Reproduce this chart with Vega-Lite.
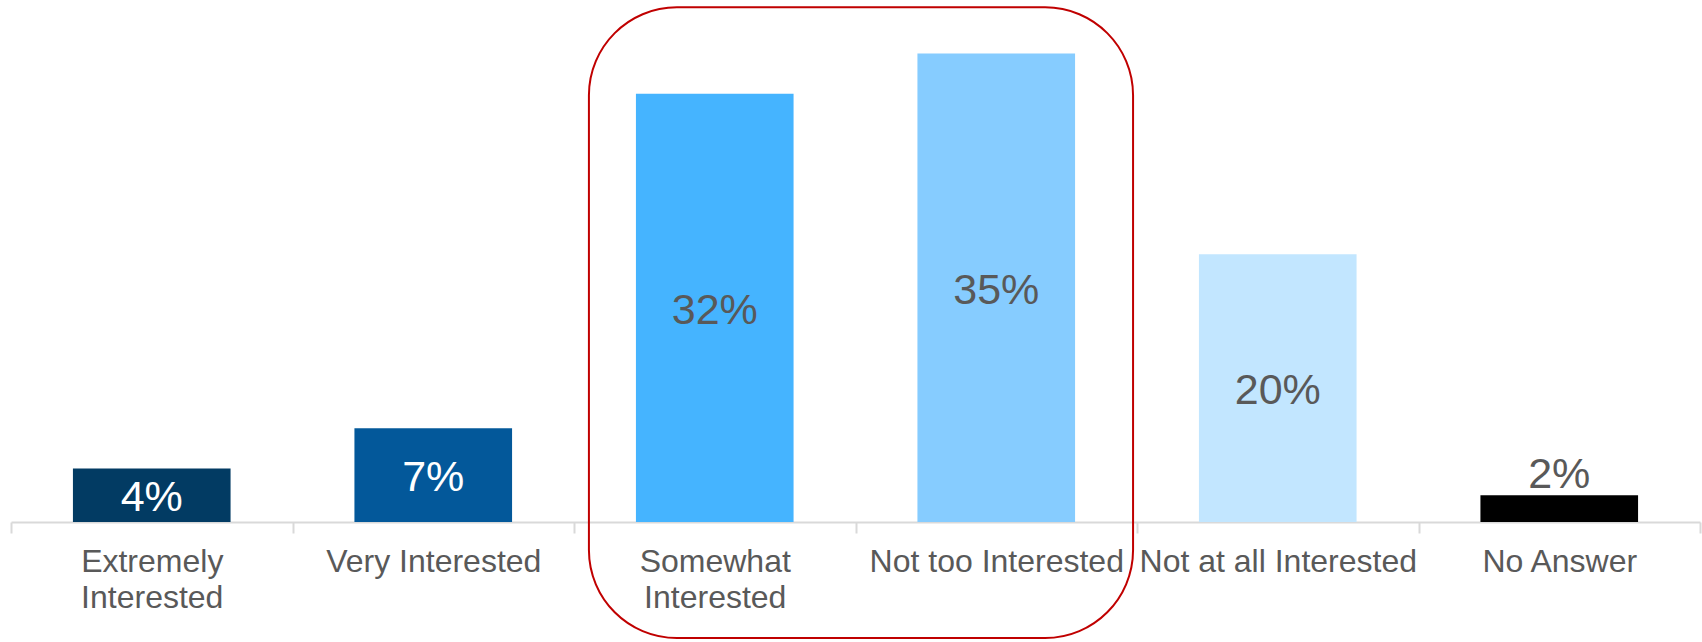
{
  "$schema": "https://vega.github.io/schema/vega-lite/v6.json",
  "width": 1689,
  "height": 522,
  "autosize": {"type": "none"},
  "padding": {"left": 11, "top": 0, "right": 2, "bottom": 120},
  "background": "white",
  "config": {
    "view": {"stroke": null},
    "font": "Liberation Sans"
  },
  "data": {
    "values": [
      {"response": "Extremely Interested", "pct": 0.04},
      {"response": "Very Interested", "pct": 0.07},
      {"response": "Somewhat Interested", "pct": 0.32},
      {"response": "Not too Interested", "pct": 0.35},
      {"response": "Not at all Interested", "pct": 0.20},
      {"response": "No Answer", "pct": 0.02}
    ]
  },
  "layer": [
    {
      "layer": [
        {
          "mark": {"type": "bar", "width": {"band": 0.56}},
          "encoding": {
            "x": {
              "field": "response",
              "type": "nominal",
              "sort": null,
              "scale": {"paddingInner": 0, "paddingOuter": 0},
              "axis": {
                "title": null,
                "tickBand": "extent",
                "domainColor": "#D9D9D9",
                "domainWidth": 2,
                "tickColor": "#D9D9D9",
                "tickWidth": 2,
                "tickSize": 11,
                "labelFont": "Liberation Sans",
                "labelFontSize": 32,
                "labelColor": "#595959",
                "labelPadding": 13,
                "labelAngle": 0,
                "labelLineHeight": 36,
                "labelLimit": 0,
                "labelOverlap": false,
                "labelBound": false,
                "labelExpr": "datum.value == 'Extremely Interested' || datum.value == 'Somewhat Interested' ? split(datum.value, ' ') : datum.value"
              }
            },
            "y": {
              "field": "pct",
              "type": "quantitative",
              "scale": {"domain": [0, 0.39], "nice": false},
              "axis": null
            },
            "color": {
              "field": "response",
              "type": "nominal",
              "scale": {
                "domain": ["Extremely Interested", "Very Interested", "Somewhat Interested", "Not too Interested", "Not at all Interested", "No Answer"],
                "range": ["#023B63", "#03589A", "#45B4FF", "#86CCFF", "#C2E6FF", "#000000"]
              },
              "legend": null
            }
          }
        },
        {
          "transform": [
            {"filter": "datum.response != 'No Answer'"},
            {"calculate": "datum.pct / 2", "as": "mid"}
          ],
          "mark": {"type": "text", "fontSize": 43, "baseline": "middle", "align": "center", "dy": 3, "font": "Liberation Sans"},
          "encoding": {
            "x": {"field": "response", "type": "nominal", "sort": null},
            "y": {"field": "mid", "type": "quantitative"},
            "text": {"field": "pct", "type": "quantitative", "format": ".0%"},
            "color": {"condition": {"test": "datum.pct < 0.1", "value": "#FFFFFF"}, "value": "#595959"}
          }
        },
        {
          "transform": [{"filter": "datum.response == 'No Answer'"}],
          "mark": {"type": "text", "fontSize": 43, "baseline": "alphabetic", "align": "center", "dy": -7, "color": "#595959", "font": "Liberation Sans"},
          "encoding": {
            "x": {"field": "response", "type": "nominal", "sort": null},
            "y": {"field": "pct", "type": "quantitative"},
            "text": {"field": "pct", "type": "quantitative", "format": ".0%"}
          }
        }
      ]
    },
    {
      "data": {"values": [{}]},
      "mark": {"type": "rect", "cornerRadius": 88, "fillOpacity": 0, "stroke": "#C00000", "strokeWidth": 2},
      "encoding": {
        "x": {"datum": 2.053, "type": "quantitative", "scale": {"domain": [0, 6], "nice": false, "zero": false}, "axis": null},
        "x2": {"datum": 3.986},
        "y": {"datum": 0.3845, "type": "quantitative"},
        "y2": {"datum": -0.0867}
      }
    }
  ],
  "resolve": {"scale": {"x": "independent"}}
}
